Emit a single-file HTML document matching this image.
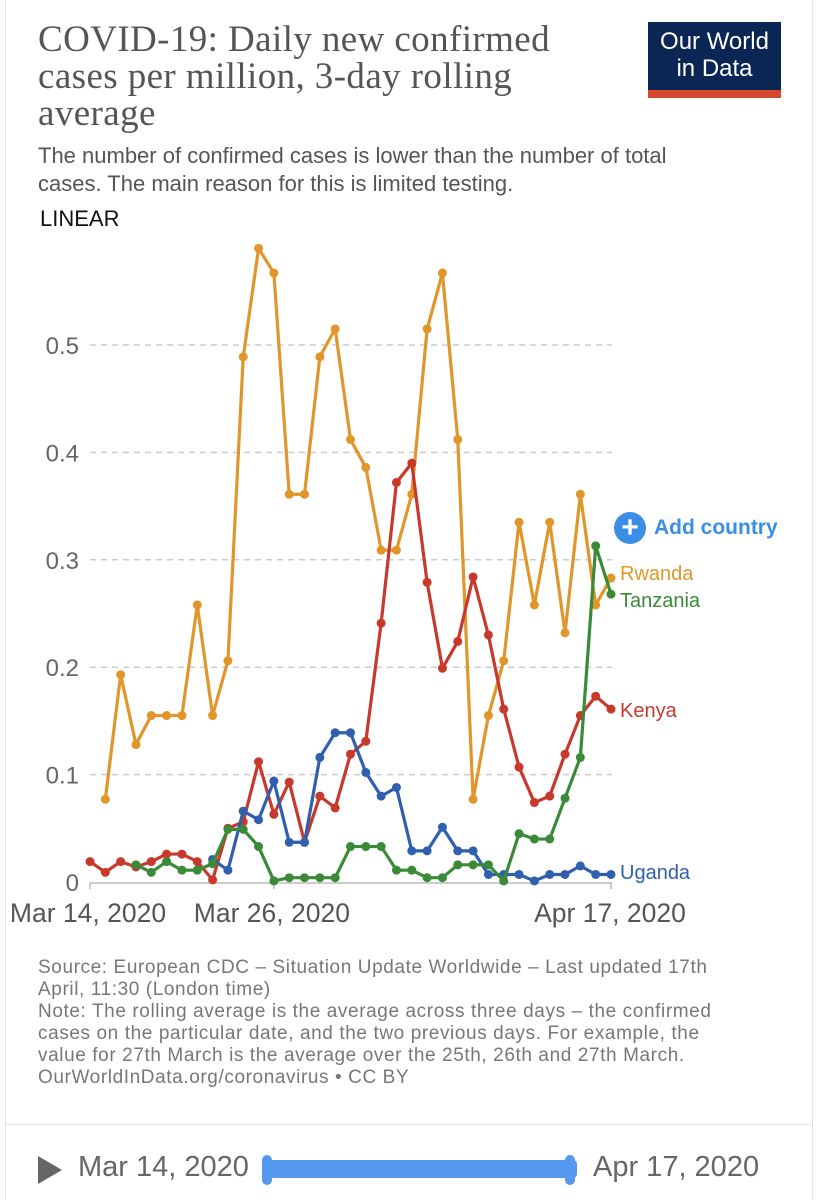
<!DOCTYPE html>
<html><head><meta charset="utf-8"><style>
body{margin:0;width:818px;height:1200px;background:#fff;position:relative;overflow:hidden;font-family:"Liberation Sans",sans-serif;}
.abs{position:absolute;}
</style></head><body>
<div class="abs" style="left:5px;top:0;width:806px;height:1200px;border-left:1px solid #e4e4e4;border-right:1px solid #e4e4e4;"></div>
<div class="abs" style="left:38px;top:21px;width:585px;font-family:'Liberation Serif',serif;font-size:37px;line-height:37px;letter-spacing:0.4px;color:#555;">COVID-19: Daily new confirmed cases per million, 3-day rolling average</div>
<div class="abs" style="left:648px;top:22px;width:133px;height:76px;background:#0b2554;color:#fff;text-align:center;font-size:24px;line-height:27px;padding-top:6px;box-sizing:border-box;">Our World<br>in Data<div style="position:absolute;left:0;bottom:0;width:100%;height:8px;background:#d6492f;"></div></div>
<div class="abs" style="left:38px;top:142px;width:690px;font-size:22px;line-height:28px;color:#555;">The number of confirmed cases is lower than the number of total cases. The main reason for this is limited testing.</div>
<div class="abs" style="left:40px;top:206px;font-size:22px;color:#111;">LINEAR</div>
<svg class="abs" id="chart" style="left:0;top:0" width="818" height="940"></svg>
<div class="abs" style="left:614px;top:512px;font-size:21px;color:#3b8ee5;font-weight:bold;display:flex;align-items:center;"><span style="display:inline-block;width:32px;height:32px;border-radius:50%;background:#3b8ee5;color:#fff;text-align:center;line-height:32px;font-size:30px;margin-right:8px;">+</span>Add country</div>
<div class="abs" style="left:38px;top:957px;white-space:nowrap;font-size:19px;letter-spacing:0.6px;line-height:22px;color:#777;">Source: European CDC – Situation Update Worldwide – Last updated 17th<br>April, 11:30 (London time)<br>Note: The rolling average is the average across three days – the confirmed<br>cases on the particular date, and the two previous days. For example, the<br>value for 27th March is the average over the 25th, 26th and 27th March.<br>OurWorldInData.org/coronavirus • CC BY</div>
<div class="abs" style="left:5px;top:1124px;width:806px;height:1px;background:#e0e0e0;"></div>
<div class="abs" style="left:38px;top:1156px;width:0;height:0;border-top:14px solid transparent;border-bottom:14px solid transparent;border-left:24px solid #666;"></div>
<div class="abs" style="left:78px;top:1151px;font-size:29px;color:#666;">Mar 14, 2020</div>
<div class="abs" style="left:265px;top:1160px;width:312px;height:18px;background:#5599f0;border-radius:4px;"></div>
<div class="abs" style="left:262px;top:1155px;width:10px;height:30px;background:#5599f0;border-radius:5px;"></div>
<div class="abs" style="left:565px;top:1155px;width:10px;height:30px;background:#5599f0;border-radius:5px;"></div>
<div class="abs" style="left:593px;top:1151px;font-size:29px;color:#666;">Apr 17, 2020</div>
<script>
const yTicks=[0,0.1,0.2,0.3,0.4,0.5];
const yTickLabels=["0","0.1","0.2","0.3","0.4","0.5"];
const xTickIdx=[0,12,34];
const xTickLabels=["Mar 14, 2020","Mar 26, 2020","Apr 17, 2020"];
const rwanda=[null,0.077,0.193,0.128,0.155,0.155,0.155,0.258,0.155,0.206,0.489,0.59,0.567,0.361,0.361,0.489,0.515,0.412,0.386,0.309,0.309,0.361,0.515,0.567,0.412,0.077,0.155,0.206,0.335,0.258,0.335,0.232,0.361,0.258,0.283];
const kenya=[0.019,0.009,0.019,0.014,0.019,0.026,0.026,0.019,0.002,0.05,0.056,0.112,0.063,0.093,0.037,0.08,0.069,0.119,0.131,0.241,0.372,0.39,0.279,0.199,0.224,0.284,0.23,0.161,0.107,0.074,0.08,0.119,0.155,0.173,0.161];
const uganda=[null,null,null,null,null,null,null,null,0.021,0.011,0.066,0.058,0.094,0.037,0.037,0.116,0.139,0.139,0.102,0.08,0.088,0.029,0.029,0.051,0.029,0.029,0.007,0.007,0.007,0.001,0.007,0.007,0.015,0.007,0.007];
const tanzania=[null,null,null,0.016,0.009,0.019,0.011,0.011,0.017,0.049,0.049,0.033,0.001,0.004,0.004,0.004,0.004,0.033,0.033,0.033,0.011,0.011,0.004,0.004,0.016,0.016,0.016,0.001,0.045,0.04,0.04,0.078,0.116,0.313,0.268];
const seriesNames=["Rwanda","Kenya","Uganda","Tanzania"];
const seriesColors=["#e0962a","#c8382b","#2f5fae","#3a8a38"];
const labelY=[573,710,872,600];
const svg=document.getElementById('chart');
const NS='http://www.w3.org/2000/svg';
const x=i=>90+i*(521/34);
const y=v=>882-v*1074;
function mk(t,a){const e=document.createElementNS(NS,t);for(const k in a)e.setAttribute(k,a[k]);svg.appendChild(e);return e;}
yTicks.forEach((t,i)=>{
 if(t>0){const g=mk('line',{x1:90,x2:612,y1:y(t),y2:y(t),stroke:'#ccc','stroke-width':1.5,'stroke-dasharray':'6,5'});
 
 }
 const l=mk('text',{x:79,y:y(t)+9,'text-anchor':'end','font-size':24,fill:'#666','font-family':'Liberation Sans'});l.textContent=yTickLabels[i];
 
 
});
const ax=mk('line',{x1:90,x2:612,y1:883,y2:883,stroke:'#bbb','stroke-width':1.5});


xTickIdx.forEach((d,i)=>{
 const tk=mk('line',{x1:x(d),x2:x(d),y1:883,y2:889,stroke:'#999'});
 
 
 const l=mk('text',{x:i==2?x(d)-1:x(d)-2,y:922,'text-anchor':'middle','font-size':26.5,fill:'#555','font-family':'Liberation Sans'});
 l.textContent=xTickLabels[i];
 
 
});
[rwanda,kenya,uganda,tanzania].forEach((s,k)=>{
 const pts=[];s.forEach((v,i)=>{if(v!==null)pts.push(x(i)+','+y(v));});
 const p=mk('polyline',{points:pts.join(' '),fill:'none',stroke:seriesColors[k],'stroke-width':3.2,'stroke-linejoin':'round'});
 
 
 s.forEach((v,i)=>{if(v===null)return;
  const c=mk('circle',{cx:x(i),cy:y(v),r:4.5,fill:seriesColors[k]});
  
  });
 const t=mk('text',{x:620,y:labelY[k]+7,'font-size':20,fill:seriesColors[k],'font-family':'Liberation Sans'});
 t.textContent=seriesNames[k];
 
 
});
</script>
</body></html>
